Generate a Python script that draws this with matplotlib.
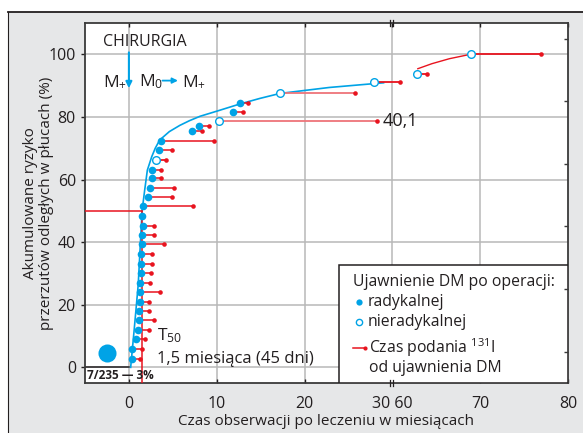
import numpy as np
import matplotlib
matplotlib.use("Agg")
import matplotlib.pyplot as plt
import matplotlib.transforms as mtransforms
from matplotlib.patches import Rectangle
from matplotlib.lines import Line2D

plt.rcParams['font.family'] = ['Open Sans', 'DejaVu Sans']
plt.rcParams['mathtext.default'] = 'regular'

# DM po operacji radykalnej: czas ujawnienia (mies.), ryzyko (%), czas podania 131I (mies.)
rad_x = [0.3, 0.4, 0.85, 1.0, 1.1, 1.2, 1.25, 1.25, 1.3, 1.35, 1.4, 1.4, 1.5, 1.5,
         1.6, 1.5, 1.6, 2.2, 2.4, 2.6, 2.6, 3.4, 3.6, 7.2, 8.0, 11.9, 12.6]
rad_y = [2.8, 5.9, 9.1, 12.0, 15.1, 18.1, 21.0, 24.0, 27.0, 30.1, 33.0, 36.1, 39.3, 42.4,
         45.3, 48.3, 51.4, 54.4, 57.3, 60.4, 63.2, 69.5, 72.4, 75.6, 77.1, 81.5, 84.6]
rad_i131 = [1.3, 1.5, 1.85, 2.3, 2.9, 2.3, 2.3, 3.5, 2.45, 2.5, 2.6, 2.6, 4.0, 2.9,
            2.85, np.nan, 7.3, 4.9, 5.1, 3.6, 3.7, 4.9, 9.7, 8.3, 9.1, 13.0, 13.6]

# DM po operacji nieradykalnej
nrad_x = [3.1, 10.3, 17.2, 27.9, 62.8, 68.9]
nrad_y = [66.3, 78.6, 87.5, 91.2, 93.8, 100.0]
nrad_i131 = [4.2, 28.2, 25.7, 60.9, 63.9, 76.9]

# krzywa skumulowanego ryzyka
curve_x = [0.2, 0.6, 1.06, 1.5, 1.8, 2.1, 2.6, 3.0, 3.5, 4.6, 5.8, 6.9, 8.1, 10.2, 12.6,
           14.9, 17.2, 22.8, 29.0]
curve_y = [0.0, 12.0, 26.4, 50.0, 56.7, 63.0, 67.3, 70.0, 72.6, 75.3, 77.3, 78.8, 80.2,
           82.0, 84.1, 85.9, 87.5, 89.4, 90.9]
late_x = [62.9, 64.5, 66.5, 68.9]
late_y = [95.4, 97.0, 98.6, 100.0]

t50 = 1.5
xtick_vals = [0, 10, 20, 30, 70, 80]
xtick_labels = ['0', '10', '20', '30 60', '70', '80']
ytick_vals = [0, 20, 40, 60, 80, 100]

BLUE = '#00a3e6'
RED = '#e8141f'
PINK = '#ee7479'
DARK = '#231f20'
GRID = '#b8b8b8'


def fx(v):
    # przerwa na osi czasu miedzy 30 a 60 miesiacem
    v = np.asarray(v, dtype=float)
    return np.where(v > 30, v - 30, v)


fig = plt.figure(figsize=(5.83, 4.33), dpi=100)
fig.patch.set_facecolor('white')
fig.patches.append(Rectangle((8 / 583, 0), 1, 421 / 433, transform=fig.transFigure,
                             facecolor='#e6e7e8', edgecolor='none', zorder=-10))
fig.add_artist(Line2D([8 / 583, 1], [421 / 433, 421 / 433], color=DARK, lw=1.3))
fig.add_artist(Line2D([8 / 583, 8 / 583], [0, 421 / 433], color=DARK, lw=0.8))

ax = fig.add_axes([85 / 583, 50 / 433, 483 / 583, 360 / 433])
ax.set_xlim(-5, 50)
ax.set_ylim(-5, 110)

for v in xtick_vals[:-1]:
    ax.axvline(fx(v), color=GRID, lw=1.1, zorder=0)
for v in ytick_vals:
    ax.axhline(v, color=GRID, lw=1.1, zorder=0)
ax.plot([-5, 0], [0, 0], color=DARK, lw=1.1, zorder=1)

ax.set_xticks(fx(xtick_vals))
ax.set_xticklabels(xtick_labels)
ax.set_yticks(ytick_vals)
ax.tick_params(axis='both', labelsize=11.5, colors=DARK, length=3, width=1)
ax.tick_params(axis='x', direction='in', top=True, pad=9)
for s in ax.spines.values():
    s.set_color('#3a3a3a')
    s.set_linewidth(1.3)

# znaczniki przerwy na osi
trans = mtransforms.blended_transform_factory(ax.transData, ax.transAxes)
for yy in (0, 1):
    for dx in (-0.3, 0.1):
        ax.plot([30 + dx, 30 + dx], [yy - 0.008, yy + 0.008], color=DARK, lw=0.9,
                transform=trans, clip_on=False, zorder=10)

# prawa os - krotkie znaczniki
ax2 = ax.twinx()
ax2.set_ylim(ax.get_ylim())
ax2.set_yticks([5, 25, 45, 65, 85, 105])
ax2.set_yticklabels([])
ax2.tick_params(axis='y', direction='in', length=3, width=1, colors='#3a3a3a')
for s in ax2.spines.values():
    s.set_visible(False)

# krzywa ryzyka
ax.plot(curve_x, curve_y, color=BLUE, lw=1.2, zorder=2)
ax.plot(fx(late_x), late_y, color=RED, lw=1.0, zorder=2)

# czas podania 131I
nrad_colors = [RED, PINK, PINK, RED, RED, RED]
ax.hlines(rad_y, fx(rad_x), fx(rad_i131), color=RED, lw=1.1, zorder=3)
ax.hlines(nrad_y, fx(nrad_x), fx(nrad_i131), colors=nrad_colors, lw=1.3, zorder=3)
ax.plot(fx(rad_i131), rad_y, 'o', color=RED, ms=3.3, mew=0, zorder=4)
ax.plot(fx(nrad_i131), nrad_y, 'o', color=RED, ms=3.3, mew=0, zorder=4)

ax.plot(rad_x, rad_y, 'o', color=BLUE, ms=5.5, mew=0, zorder=5)
ax.plot(fx(nrad_x), nrad_y, 'o', mfc='white', mec=BLUE, ms=5.5, mew=1, zorder=5)

# mediana T50
ax.plot([t50, t50], [-5, 50], color=RED, lw=1.1, zorder=3)
ax.plot([-5, t50], [50, 50], color=RED, lw=1.1, zorder=3)

ax.text(-2.95, 103.8, 'CHIRURGIA', fontsize=11.5, color=DARK, va='center', ha='left')
ax.annotate('', xy=(0, 88.3), xytext=(0, 101.5),
            arrowprops=dict(arrowstyle='-|>', color=BLUE, lw=1.5, mutation_scale=9))
ax.text(-3.0, 91.2, 'M$_{+}$', fontsize=12.5, color=DARK, va='center', ha='left')
ax.text(1.2, 91.2, 'M$_{0}$', fontsize=12.5, color=DARK, va='center', ha='left')
ax.annotate('', xy=(5.9, 91.6), xytext=(3.5, 91.6),
            arrowprops=dict(arrowstyle='-|>', color=BLUE, lw=1.3, mutation_scale=8))
ax.text(6.0, 91.2, 'M$_{+}$', fontsize=12.5, color=DARK, va='center', ha='left')

ax.text(28.9, 78.6, '40,1', fontsize=13, color=DARK, va='center', ha='left')

ax.plot([-2.47], [4.5], 'o', color=BLUE, ms=13, mew=0, zorder=5)
ax.text(3.2, 10.0, 'T$_{50}$', fontsize=12.5, color=DARK, va='center', ha='left')
ax.text(3.2, 2.8, '1,5 miesiąca (45 dni)', fontsize=12, color=DARK, va='center', ha='left')
ax.text(-4.8, -2.6, '7/235 — 3%', fontsize=8.5, fontweight='bold', color=DARK,
        va='center', ha='left')

# legenda
ax.add_patch(Rectangle((0.526, 0), 0.474, 0.328, transform=ax.transAxes,
                       facecolor='white', edgecolor=DARK, lw=1.1, zorder=8))
ax.text(0.555, 0.281, 'Ujawnienie DM po operacji:', transform=ax.transAxes,
        fontsize=11.3, color=DARK, va='center', ha='left', zorder=9)
ax.plot([0.567], [0.226], 'o', color=BLUE, ms=4.5, mew=0, transform=ax.transAxes, zorder=9)
ax.text(0.585, 0.226, 'radykalnej', transform=ax.transAxes,
        fontsize=11.3, color=DARK, va='center', ha='left', zorder=9)
ax.plot([0.567], [0.170], 'o', mfc='white', mec=BLUE, ms=4.5, mew=1,
        transform=ax.transAxes, zorder=9)
ax.text(0.585, 0.170, 'nieradykalnej', transform=ax.transAxes,
        fontsize=11.3, color=DARK, va='center', ha='left', zorder=9)
ax.plot([0.555, 0.580], [0.098, 0.098], color=RED, lw=1.1, transform=ax.transAxes, zorder=9)
ax.plot([0.580], [0.098], 'o', color=RED, ms=3, mew=0, transform=ax.transAxes, zorder=9)
ax.text(0.588, 0.098, 'Czas podania $^{131}$I', transform=ax.transAxes,
        fontsize=11.3, color=DARK, va='center', ha='left', zorder=9)
ax.text(0.588, 0.041, 'od ujawnienia DM', transform=ax.transAxes,
        fontsize=11.3, color=DARK, va='center', ha='left', zorder=9)

ax.set_xlabel('Czas obserwacji po leczeniu w miesiącach', fontsize=11, color=DARK, labelpad=2)
ax.set_ylabel('Akumulowane ryzyko\nprzerzutów odległych w płucach (%)', fontsize=11,
              color=DARK, labelpad=-4, linespacing=1.1)

fig.savefig('out.png', dpi=100)
